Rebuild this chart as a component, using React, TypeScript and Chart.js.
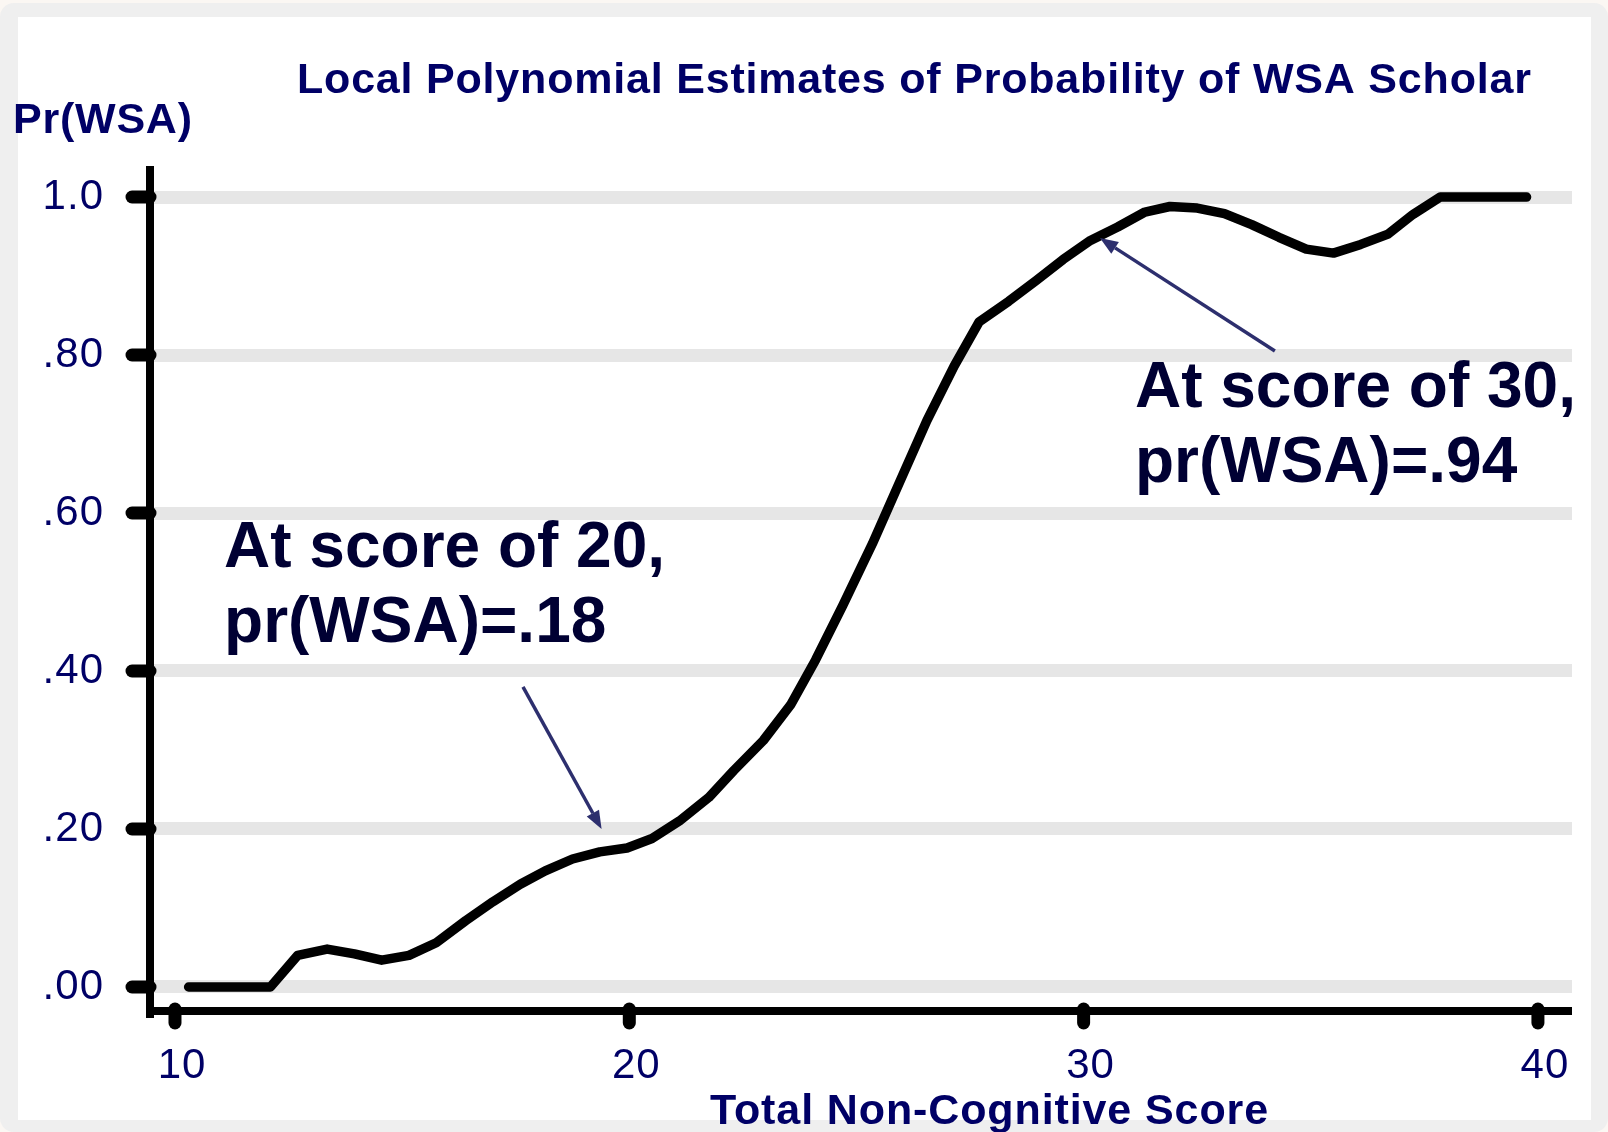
import React, { useEffect, useRef } from 'react';
import { Chart, registerables } from 'chart.js';

Chart.register(...registerables);

// ---------- data ----------
const scores = [
  10.3, 12.1, 12.7, 13.35, 13.95, 14.55, 15.15, 15.75, 16.4, 17.0, 17.6, 18.15, 18.75, 19.35, 19.95,
  20.5, 21.1, 21.75, 22.3, 22.95, 23.55, 24.1, 24.7, 25.35, 25.95, 26.55, 27.15, 27.7, 28.35, 28.95,
  29.55, 30.15, 30.75, 31.35, 31.9, 32.5, 33.1, 33.7, 34.3, 34.9, 35.5, 36.1, 36.7, 37.25, 37.85, 39.75,
];
const probabilities = [
  0, 0, 0.04, 0.048, 0.042, 0.034, 0.04, 0.056, 0.084, 0.108, 0.13, 0.147, 0.162, 0.171, 0.176,
  0.188, 0.21, 0.24, 0.274, 0.312, 0.357, 0.414, 0.483, 0.561, 0.639, 0.717, 0.786, 0.842, 0.868, 0.894,
  0.921, 0.945, 0.962, 0.981, 0.988, 0.986, 0.979, 0.965, 0.949, 0.934, 0.929, 0.94, 0.953, 0.978, 1.0, 1.0,
];
const xTickValues = [10, 20, 30, 40];
const xTickLabels = ['10', '20', '30', '40'];
const yTickValues = [0, 0.2, 0.4, 0.6, 0.8, 1.0];
const yTickLabels = ['.00', '.20', '.40', '.60', '.80', '1.0'];
const xRange = [9.45, 40.75];
const yRange = [-0.0304, 1.0342];

const chartTitle = 'Local Polynomial Estimates of Probability of WSA Scholar';
const yAxisTitle = 'Pr(WSA)';
const xAxisTitle = 'Total Non-Cognitive Score';

const note20Lines = ['At score of 20,', 'pr(WSA)=.18'];
const note20At = [11.08, 0.532];
const arrow20 = [17.66, 0.38, 19.39, 0.2];
const note30Lines = ['At score of 30,', 'pr(WSA)=.94'];
const note30At = [31.13, 0.734];
const arrow30 = [34.21, 0.805, 30.36, 0.948];

// ---------- styles ----------
const NAVY = '#000066';
const NOTE = '#000033';
const ARROW = '#2d2f6e';
const FONT = '"Liberation Sans", Arial, sans-serif';

function fitText(ctx: CanvasRenderingContext2D, text: string, x: number, y: number, width: number, font: string, color: string) {
  ctx.font = font;
  (ctx as any).letterSpacing = '0px';
  const w0 = ctx.measureText(text).width;
  const sp = (width - w0) / Math.max(1, text.length - 1);
  (ctx as any).letterSpacing = sp.toFixed(2) + 'px';
  ctx.fillStyle = color;
  ctx.textAlign = 'left';
  ctx.textBaseline = 'alphabetic';
  ctx.fillText(text, x, y);
  (ctx as any).letterSpacing = '0px';
}

function drawArrow(ctx: CanvasRenderingContext2D, x1: number, y1: number, x2: number, y2: number) {
  const ang = Math.atan2(y2 - y1, x2 - x1);
  const len = 18;
  const half = 7;
  const bx = x2 - len * Math.cos(ang);
  const by = y2 - len * Math.sin(ang);
  ctx.strokeStyle = ARROW;
  ctx.fillStyle = ARROW;
  ctx.lineWidth = 3.5;
  ctx.lineCap = 'butt';
  ctx.beginPath();
  ctx.moveTo(x1, y1);
  ctx.lineTo(bx, by);
  ctx.stroke();
  ctx.beginPath();
  ctx.moveTo(x2, y2);
  ctx.lineTo(bx + half * Math.sin(ang), by - half * Math.cos(ang));
  ctx.lineTo(bx - half * Math.sin(ang), by + half * Math.cos(ang));
  ctx.closePath();
  ctx.fill();
}

const decorPlugin = {
  id: 'decor',
  beforeDraw(chart: any) {
    chart.ctx.letterSpacing = '1px';
  },
  afterDraw(chart: any) {
    const ctx: CanvasRenderingContext2D = chart.ctx;
    const xs = chart.scales.x;
    const ys = chart.scales.y;
    const area = chart.chartArea;
    ctx.save();
    (ctx as any).letterSpacing = '0px';
    // tick marks with round caps
    ctx.strokeStyle = '#000';
    ctx.lineWidth = 13;
    ctx.lineCap = 'round';
    yTickValues.forEach((v) => {
      const py = ys.getPixelForValue(v);
      ctx.beginPath();
      ctx.moveTo(area.left - 18, py);
      ctx.lineTo(area.left, py);
      ctx.stroke();
    });
    xTickValues.forEach((v) => {
      const px = xs.getPixelForValue(v);
      ctx.beginPath();
      ctx.moveTo(px, area.bottom - 2);
      ctx.lineTo(px, area.bottom + 12);
      ctx.stroke();
    });
    // rounded axis ends
    ctx.lineWidth = 8;
    ctx.beginPath();
    ctx.moveTo(area.left, area.top + 6);
    ctx.lineTo(area.left, area.top);
    ctx.stroke();
    ctx.beginPath();
    ctx.moveTo(area.right - 6, area.bottom);
    ctx.lineTo(area.right - 4, area.bottom);
    ctx.stroke();

    // titles
    fitText(ctx, chartTitle, 297, 93, 1234, `bold 43px ${FONT}`, NAVY);
    fitText(ctx, yAxisTitle, 13, 133, 179, `bold 43px ${FONT}`, NAVY);
    fitText(ctx, xAxisTitle, 710, 1124, 558, `bold 43px ${FONT}`, NAVY);

    // annotations
    ctx.font = `bold 64px ${FONT}`;
    ctx.fillStyle = NOTE;
    ctx.textAlign = 'left';
    ctx.textBaseline = 'alphabetic';
    const drawNote = (lines: string[], at: number[]) => {
      const x = xs.getPixelForValue(at[0]);
      const y = ys.getPixelForValue(at[1]);
      lines.forEach((l, i) => ctx.fillText(l, x, y + i * 75));
    };
    drawNote(note20Lines, note20At);
    drawNote(note30Lines, note30At);

    drawArrow(ctx, xs.getPixelForValue(arrow20[0]), ys.getPixelForValue(arrow20[1]), xs.getPixelForValue(arrow20[2]), ys.getPixelForValue(arrow20[3]));
    drawArrow(ctx, xs.getPixelForValue(arrow30[0]), ys.getPixelForValue(arrow30[1]), xs.getPixelForValue(arrow30[2]), ys.getPixelForValue(arrow30[3]));
    ctx.restore();
  },
};

export default function App() {
  const ref = useRef<HTMLCanvasElement | null>(null);
  useEffect(() => {
    if (!ref.current) return;
    const chart = new Chart(ref.current, {
      type: 'line',
      data: {
        datasets: [
          {
            data: scores.map((s, i) => ({ x: s, y: probabilities[i] })),
            borderColor: '#000',
            borderWidth: 9.5,
            borderCapStyle: 'round',
            borderJoinStyle: 'round',
            pointRadius: 0,
            tension: 0,
            fill: false,
          },
        ],
      },
      options: {
        responsive: false,
        animation: false,
        devicePixelRatio: 1,
        layout: { padding: { left: 0, right: 36, top: 170, bottom: 0 } },
        plugins: { legend: { display: false }, tooltip: { enabled: false }, title: { display: false } },
        scales: {
          x: {
            type: 'linear',
            min: xRange[0],
            max: xRange[1],
            afterBuildTicks: (s: any) => {
              s.ticks = xTickValues.map((v) => ({ value: v }));
            },
            afterFit: (s: any) => {
              s.height = 121;
            },
            grid: { display: false, drawTicks: false, lineWidth: 0 },
            border: { display: true, color: '#000', width: 8 },
            ticks: {
              autoSkip: false,
              maxRotation: 0,
              padding: 30,
              labelOffset: 7,
              color: NAVY,
              font: { family: FONT, size: 42 },
              callback: (_v: any, i: number) => xTickLabels[i],
            },
          },
          y: {
            type: 'linear',
            min: yRange[0],
            max: yRange[1],
            afterBuildTicks: (s: any) => {
              s.ticks = yTickValues.map((v) => ({ value: v }));
            },
            afterFit: (s: any) => {
              s.width = 150;
            },
            grid: { display: true, color: '#e6e6e6', lineWidth: 13, drawTicks: false },
            border: { display: true, color: '#000', width: 8 },
            ticks: {
              autoSkip: false,
              padding: 46,
              color: NAVY,
              font: { family: FONT, size: 42 },
              callback: (_v: any, i: number) => yTickLabels[i],
            },
          },
        },
      },
      plugins: [decorPlugin],
    } as any);
    return () => chart.destroy();
  }, []);

  return (
    <div style={{ position: 'absolute', left: 0, top: 0, width: 1608, height: 1132, background: '#fbf7f3', overflow: 'hidden' }}>
      <div style={{ position: 'absolute', left: 0, top: 3, width: 1608, height: 1129, background: '#efefef', borderRadius: 14 }} />
      <div style={{ position: 'absolute', left: 18, top: 17, width: 1573, height: 1103, background: '#ffffff' }} />
      <canvas ref={ref} width={1608} height={1132} style={{ position: 'absolute', left: 0, top: 0, display: 'block' }} />
    </div>
  );
}
